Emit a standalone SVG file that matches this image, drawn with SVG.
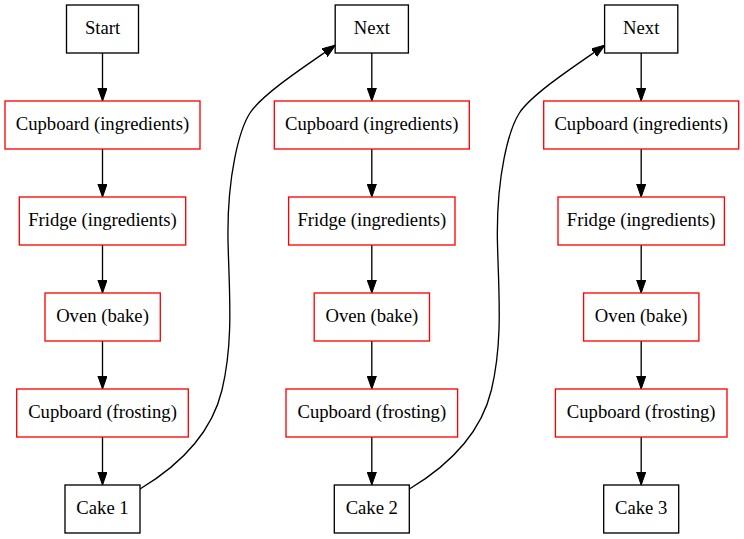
<svg xmlns="http://www.w3.org/2000/svg" width="744" height="539" viewBox="0 0 744 539">
<defs>
<style>
.box{fill:#fff;stroke-width:1.33}
.k{stroke:#000}
.r{stroke:#ff0000}
text{font-family:"Liberation Serif","Times New Roman",serif;font-size:18.67px;fill:#000;text-anchor:middle}
.e{fill:none;stroke:#000;stroke-width:1.33;marker-end:url(#ah)}
</style>
<marker id="ah" markerUnits="userSpaceOnUse" markerWidth="14" markerHeight="10" refX="13.3" refY="4.7" orient="auto" viewBox="0 0 14 10">
<path d="M0,0 L13.3,4.7 L0,9.4 Z" fill="#000" stroke="#000" stroke-width="1"/>
</marker>
</defs>
<rect width="744" height="539" fill="#fff"/>
<g id="connectors">
<line class="e" x1="102.5" y1="53" x2="102.5" y2="101"/>
<line class="e" x1="102.5" y1="149" x2="102.5" y2="197"/>
<line class="e" x1="102.5" y1="245" x2="102.5" y2="293"/>
<line class="e" x1="102.5" y1="341" x2="102.5" y2="389"/>
<line class="e" x1="102.5" y1="437" x2="102.5" y2="485"/>
<line class="e" x1="371.8" y1="53" x2="371.8" y2="101"/>
<line class="e" x1="371.8" y1="149" x2="371.8" y2="197"/>
<line class="e" x1="371.8" y1="245" x2="371.8" y2="293"/>
<line class="e" x1="371.8" y1="341" x2="371.8" y2="389"/>
<line class="e" x1="371.8" y1="437" x2="371.8" y2="485"/>
<line class="e" x1="641.2" y1="53" x2="641.2" y2="101"/>
<line class="e" x1="641.2" y1="149" x2="641.2" y2="197"/>
<line class="e" x1="641.2" y1="245" x2="641.2" y2="293"/>
<line class="e" x1="641.2" y1="341" x2="641.2" y2="389"/>
<line class="e" x1="641.2" y1="437" x2="641.2" y2="485"/>
<path class="e" d="M140,489 C170,471 210,440 222,390 C234,340 229,290 228,240 C227,175 239.6,129 250,113 C263,93 311.5,62 335.5,45"/>
<path class="e" d="M409.4,489 C439.4,471 479.4,440 491.4,390 C503.4,340 498.4,290 497.4,240 C496.4,175 509,129 519.4,113 C532.4,93 580.9,62 604.9,45"/>
</g>
<g id="start"><rect class="box k" x="66.5" y="5" width="72" height="48"/><text x="102.5" y="34">Start</text></g>
<g id="cup_ing1"><rect class="box r" x="5" y="101" width="195" height="48"/><text x="102.5" y="130">Cupboard (ingredients)</text></g>
<g id="fridge1"><rect class="box r" x="19.3" y="197" width="166.4" height="48"/><text x="102.5" y="226">Fridge (ingredients)</text></g>
<g id="oven1"><rect class="box r" x="45" y="293" width="115.3" height="48"/><text x="102.5" y="322">Oven (bake)</text></g>
<g id="cup_fro1"><rect class="box r" x="16.7" y="389" width="171.6" height="48"/><text x="102.5" y="418">Cupboard (frosting)</text></g>
<g id="cake1"><rect class="box k" x="65" y="485" width="75" height="48"/><text x="102.5" y="514">Cake 1</text></g>

<g id="next2"><rect class="box k" x="335.2" y="5" width="73.2" height="48"/><text x="371.8" y="34">Next</text></g>
<g id="cup_ing2"><rect class="box r" x="274.3" y="101" width="195" height="48"/><text x="371.8" y="130">Cupboard (ingredients)</text></g>
<g id="fridge2"><rect class="box r" x="288.6" y="197" width="166.4" height="48"/><text x="371.8" y="226">Fridge (ingredients)</text></g>
<g id="oven2"><rect class="box r" x="314.2" y="293" width="115.3" height="48"/><text x="371.8" y="322">Oven (bake)</text></g>
<g id="cup_fro2"><rect class="box r" x="286" y="389" width="171.6" height="48"/><text x="371.8" y="418">Cupboard (frosting)</text></g>
<g id="cake2"><rect class="box k" x="334.3" y="485" width="75" height="48"/><text x="371.8" y="514">Cake 2</text></g>

<g id="next3"><rect class="box k" x="604.6" y="5" width="73.2" height="48"/><text x="641.2" y="34">Next</text></g>
<g id="cup_ing3"><rect class="box r" x="543.7" y="101" width="195" height="48"/><text x="641.2" y="130">Cupboard (ingredients)</text></g>
<g id="fridge3"><rect class="box r" x="558" y="197" width="166.4" height="48"/><text x="641.2" y="226">Fridge (ingredients)</text></g>
<g id="oven3"><rect class="box r" x="583.6" y="293" width="115.3" height="48"/><text x="641.2" y="322">Oven (bake)</text></g>
<g id="cup_fro3"><rect class="box r" x="555.4" y="389" width="171.6" height="48"/><text x="641.2" y="418">Cupboard (frosting)</text></g>
<g id="cake3"><rect class="box k" x="603.7" y="485" width="75" height="48"/><text x="641.2" y="514">Cake 3</text></g>
</svg>
